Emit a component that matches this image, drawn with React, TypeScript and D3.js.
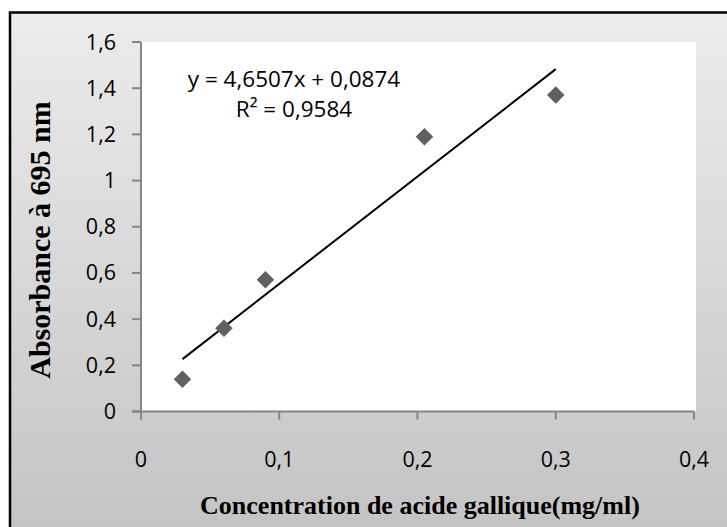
import React from "react";
import * as d3 from "d3";

const concentrations = [0.03, 0.06, 0.09, 0.205, 0.3];
const absorbances = [0.14, 0.36, 0.57, 1.19, 1.37];
const slope = 4.6507;
const intercept = 0.0874;
const xTicks = [0, 0.1, 0.2, 0.3, 0.4];
const yTicks = [0, 0.2, 0.4, 0.6, 0.8, 1, 1.2, 1.4, 1.6];
const equationText = "y = 4,6507x + 0,0874";
const r2Text = "R² = 0,9584";
const xTitle = "Concentration de acide gallique(mg/ml)";
const yTitle = "Absorbance à 695 nm";

const W = 727;
const H = 527;
const plot = { left: 141, right: 694, top: 42, bottom: 411.5 };

const fmt = (v: number) => String(+v.toFixed(2)).replace(".", ",");

export default function App() {
  const x = d3.scaleLinear().domain([0, 0.4]).range([plot.left, plot.right]);
  const y = d3.scaleLinear().domain([0, 1.6]).range([plot.bottom, plot.top]);
  const xMin = d3.min(concentrations) as number;
  const xMax = d3.max(concentrations) as number;
  const line = d3.line<number>().x((d) => x(d)).y((d) => y(slope * d + intercept));
  const diamond = d3.symbol().type(d3.symbolDiamond2).size(195)();
  const axisColor = "#868686";
  const tickFont = "'Open Sans', sans-serif";
  const serif = "'Liberation Serif', 'Times New Roman', serif";
  return (
    <svg width={W} height={H} style={{ position: "absolute", left: 0, top: 0 }}>
      <defs>
        <linearGradient id="bg" x1="0" y1="0" x2="0" y2="1">
          <stop offset="0" stopColor="#ECECEC" />
          <stop offset="1" stopColor="#C3C3C3" />
        </linearGradient>
      </defs>
      <rect x={0} y={0} width={W} height={H} fill="#ffffff" />
      <rect x={10} y={12.5} width={W} height={H} fill="url(#bg)" stroke="#000" strokeWidth={2.5} />
      <rect x={plot.left} y={plot.top} width={plot.right - plot.left + 2} height={plot.bottom - plot.top} fill="#ffffff" />
      <line x1={plot.left} x2={plot.left} y1={plot.top} y2={plot.bottom + 8} stroke={axisColor} strokeWidth={2} />
      <line x1={plot.left - 9} x2={plot.right} y1={plot.bottom} y2={plot.bottom} stroke={axisColor} strokeWidth={2} />
      {yTicks.map((t) => (
        <g key={"y" + t}>
          <line x1={plot.left - 9} x2={plot.left} y1={y(t)} y2={y(t)} stroke={axisColor} strokeWidth={2} />
          <text x={116} y={y(t) + 7.5} textAnchor="end" fontFamily={tickFont} fontSize={21.5} fill="#000">{fmt(t)}</text>
        </g>
      ))}
      {xTicks.map((t) => (
        <g key={"x" + t}>
          <line x1={x(t)} x2={x(t)} y1={plot.bottom} y2={plot.bottom + 8} stroke={axisColor} strokeWidth={2} />
          <text x={x(t)} y={467} textAnchor="middle" fontFamily={tickFont} fontSize={21.5} fill="#000">{fmt(t)}</text>
        </g>
      ))}
      <path d={line([xMin, xMax]) || ""} stroke="#000" strokeWidth={2} fill="none" />
      {concentrations.map((c, i) => (
        <path key={i} d={diamond || ""} transform={`translate(${x(c)},${y(absorbances[i])})`} fill="#606060" />
      ))}
      <text x={294} y={87} textAnchor="middle" fontFamily={tickFont} fontSize={22.5} fill="#000">{equationText}</text>
      <text x={294} y={117} textAnchor="middle" fontFamily={tickFont} fontSize={22.5} fill="#000">{r2Text}</text>
      <text x={420} y={514} textAnchor="middle" fontFamily={serif} fontWeight="bold" fontSize={26} fill="#000">{xTitle}</text>
      <text transform={`translate(50,240) rotate(-90)`} textAnchor="middle" fontFamily={serif} fontWeight="bold" fontSize={30} fill="#000">{yTitle}</text>
    </svg>
  );
}
